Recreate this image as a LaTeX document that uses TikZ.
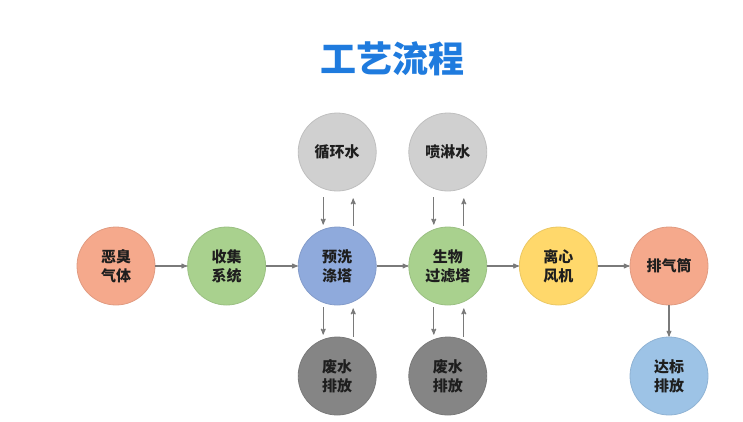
\documentclass[tikz,border=0pt]{standalone}
\usepackage{fontspec}
\newfontfamily\cjk{Noto Sans CJK SC}
\usetikzlibrary{arrows}

\definecolor{titleblue}{HTML}{1F7BDE}
\definecolor{textdark}{HTML}{1E1E1E}
\definecolor{linegray}{HTML}{7A7A7A}
\definecolor{salmon}{HTML}{F5A98C}
\definecolor{leaf}{HTML}{A9D18E}
\definecolor{lilac}{HTML}{8FAADC}
\definecolor{sun}{HTML}{FFD86B}
\definecolor{sky}{HTML}{9DC3E6}
\definecolor{mist}{HTML}{D0D0D0}
\definecolor{slate}{HTML}{858585}

\begin{document}
\begin{tikzpicture}[->,>=stealth',x=1pt,y=-1pt,node distance=110.6pt,
	line width=1.1pt,draw=linegray,
	main node/.style={circle, draw, line width=0.8pt, minimum size=78pt, inner sep=0pt, align=center,
		text=textdark, font=\cjk\bfseries\fontsize{15}{19}\selectfont}]
	
	\useasboundingbox (0,0) rectangle (743,421);
	
	\node[text=titleblue, font=\cjk\bfseries\fontsize{36}{40}\selectfont] (title) at (392,59) {工艺流程};
	
	% main row
	\node[main node, fill=salmon, draw=salmon!92!black] (1) at (116,266) {恶臭\\气体};
	\node[main node, fill=leaf, draw=leaf!92!black] (2) [right of=1] {收集\\系统};
	\node[main node, fill=lilac, draw=lilac!92!black] (3) [right of=2] {预洗\\涤塔};
	\node[main node, fill=leaf, draw=leaf!92!black] (4) [right of=3] {生物\\过滤塔};
	\node[main node, fill=sun, draw=sun!92!black] (5) [right of=4] {离心\\风机};
	\node[main node, fill=salmon, draw=salmon!92!black] (6) [right of=5] {排气筒};
	
	% water in and out
	\node[main node, fill=mist, draw=mist!92!black] (7) [above of=3, node distance=114pt] {循环水};
	\node[main node, fill=mist, draw=mist!92!black] (8) [above of=4, node distance=114pt] {喷淋水};
	\node[main node, fill=slate, draw=slate!92!black] (9) [below of=3, node distance=110pt] {废水\\排放};
	\node[main node, fill=slate, draw=slate!92!black] (10) [below of=4, node distance=110pt] {废水\\排放};
	\node[main node, fill=sky, draw=sky!92!black] (11) [below of=6, node distance=110pt] {达标\\排放};
	
	\draw (1) -- (2);
	\draw (2) -- (3);
	\draw (3) -- (4);
	\draw (4) -- (5);
	\draw (5) -- (6);
	\draw (6) -- (11);
	
	\foreach \a/\b in {7/3, 8/4} {
		\draw ([xshift=-14pt,yshift=-6pt]\a.south) -- ([xshift=-14pt,yshift=2pt]\b.north);
		\draw ([xshift=16pt,yshift=1pt]\b.north) -- ([xshift=16pt,yshift=-7pt]\a.south);
	}
	\foreach \a/\b in {3/9, 4/10} {
		\draw ([xshift=-14pt,yshift=-2pt]\a.south) -- ([xshift=-14pt,yshift=2pt]\b.north);
		\draw ([xshift=16pt]\b.north) -- ([xshift=16pt,yshift=-3pt]\a.south);
	}
\end{tikzpicture}
\end{document}
